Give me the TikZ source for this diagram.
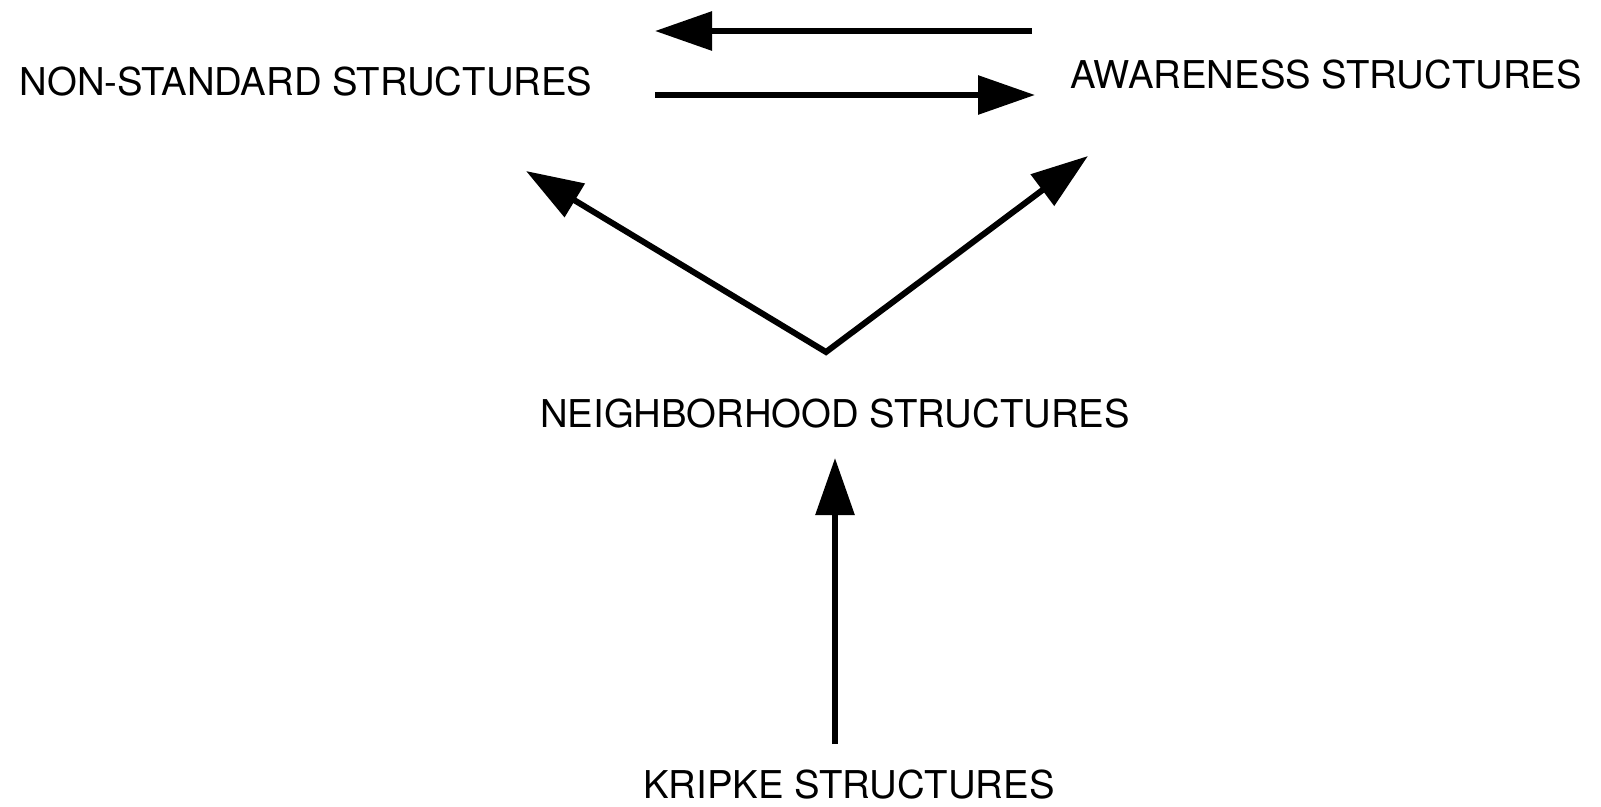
\documentclass[tikz,border=0pt]{standalone}
\usepackage{fontspec}
\setmainfont{TeX Gyre Heros}
\usetikzlibrary{arrows.meta}
\begin{document}
\begin{tikzpicture}[x=1pt,y=-1pt,
  lbl/.style={inner sep=0pt, font=\fontsize{38.3}{46}\selectfont},
  conn/.style={line width=6pt, line join=miter, -{Triangle[length=57pt,width=38pt]}}]
\useasboundingbox (0,0) rectangle (1601,806);
\node[lbl] (ns) at (306,82) {NON-STANDARD STRUCTURES};
\node[lbl] (aw) at (1326,75) {AWARENESS STRUCTURES};
\node[lbl] (nb) at (835,414) {NEIGHBORHOOD STRUCTURES};
\node[lbl] (kr) at (849,785) {KRIPKE STRUCTURES};
% arrow end points
\coordinate (t1s) at (1032,31);
\coordinate (t1e) at (655,31);
\coordinate (t2s) at (655,95);
\coordinate (t2e) at (1035,95);
\coordinate (v) at (826,352);
\coordinate (dl) at (526,171);
\coordinate (dr) at (1088,156);
\coordinate (ks) at (835,744);
\coordinate (ke) at (835,458);
\draw[conn] (t1s) -- (t1e);
\draw[conn] (t2s) -- (t2e);
\draw[conn, {Triangle[length=57pt,width=38pt]}-{Triangle[length=57pt,width=38pt]}] (dl) -- (v) -- (dr);
\draw[conn] (ks) -- (ke);
\end{tikzpicture}
\end{document}
